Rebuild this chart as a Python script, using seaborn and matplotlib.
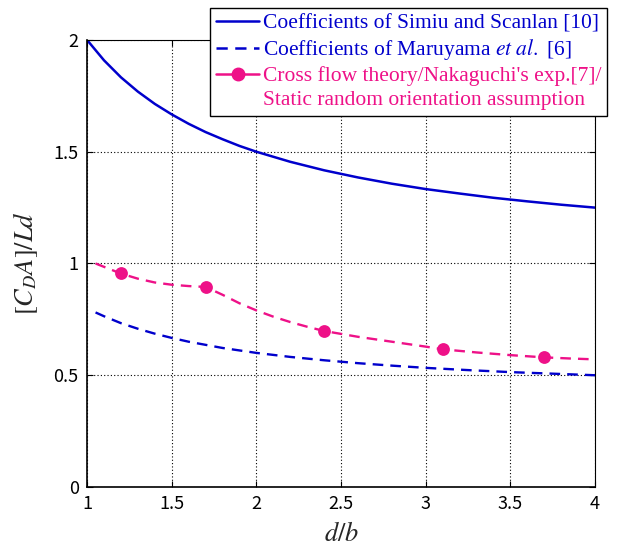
import matplotlib
matplotlib.use("Agg")
import matplotlib.pyplot as plt
import seaborn as sns
import pandas as pd
from matplotlib.lines import Line2D

# Simiu and Scanlan coefficients (solid blue)
simiu_x = [1.0, 1.1, 1.2, 1.3, 1.4, 1.5, 1.6, 1.7, 1.8, 1.9, 2.0, 2.2, 2.4, 2.6,
           2.8, 3.0, 3.2, 3.4, 3.6, 3.8, 4.0]
simiu_y = [2.0, 1.909, 1.833, 1.769, 1.714, 1.667, 1.625, 1.588, 1.556, 1.526, 1.5,
           1.455, 1.417, 1.385, 1.357, 1.333, 1.313, 1.294, 1.278, 1.263, 1.25]

# Maruyama et al. coefficients (dashed blue)
maru_x = [1.05, 1.1, 1.2, 1.3, 1.4, 1.5, 1.6, 1.8, 2.0, 2.2, 2.4, 2.6, 2.8, 3.0,
          3.25, 3.5, 3.75, 4.0]
maru_y = [0.781, 0.764, 0.733, 0.708, 0.686, 0.667, 0.65, 0.622, 0.6, 0.582,
          0.567, 0.554, 0.543, 0.533, 0.523, 0.514, 0.507, 0.5]

# Cross flow theory curve (dashed pink) and Nakaguchi's experiment points
cross_x = [1.05, 1.1, 1.2, 1.3, 1.4, 1.5, 1.6, 1.7, 1.8, 1.9, 2.0, 2.1, 2.2, 2.3,
           2.4, 2.6, 2.8, 3.0, 3.1, 3.3, 3.5, 3.7, 3.85, 4.0]
cross_y = [1.0, 0.985, 0.955, 0.932, 0.915, 0.905, 0.899, 0.895, 0.86, 0.822,
           0.79, 0.762, 0.738, 0.717, 0.698, 0.672, 0.65, 0.628, 0.616, 0.602,
           0.59, 0.58, 0.575, 0.571]
exp_x = [1.2, 1.7, 2.4, 3.1, 3.7]
exp_y = [0.957, 0.896, 0.698, 0.616, 0.58]

BLUE = "#0000cc"
PINK = "#ee1188"
DASH = (0, (4.5, 3))

sns.set_theme(style="white")
plt.rcParams["font.family"] = ["Noto Sans CJK JP", "DejaVu Sans"]
plt.rcParams["mathtext.fontset"] = "stix"

fig = plt.figure(figsize=(6.22, 5.47), dpi=100)
ax = fig.add_axes([0.14, 0.1097, 0.8166, 0.8172])

df_s = pd.DataFrame({"x": simiu_x, "y": simiu_y})
df_m = pd.DataFrame({"x": maru_x, "y": maru_y})
df_c = pd.DataFrame({"x": cross_x, "y": cross_y})
df_e = pd.DataFrame({"x": exp_x, "y": exp_y})

sns.lineplot(data=df_s, x="x", y="y", ax=ax, color=BLUE, linewidth=1.8)
sns.lineplot(data=df_m, x="x", y="y", ax=ax, color=BLUE, linewidth=1.7,
             linestyle=DASH)
sns.lineplot(data=df_c, x="x", y="y", ax=ax, color=PINK, linewidth=1.7,
             linestyle=DASH)
sns.scatterplot(data=df_e, x="x", y="y", ax=ax, color=PINK, s=85,
                edgecolor=PINK, linewidth=0, zorder=5)

ax.set_xlim(1, 4)
ax.set_ylim(0, 2)
ax.set_xticks([1, 1.5, 2, 2.5, 3, 3.5, 4])
ax.set_xticklabels(["1", "1.5", "2", "2.5", "3", "3.5", "4"])
ax.set_yticks([0, 0.5, 1, 1.5, 2])
ax.set_yticklabels(["0", "0.5", "1", "1.5", "2"])
ax.tick_params(labelsize=13, colors="black", direction="in", length=4,
               width=0.8, bottom=True, left=True, top=True, right=True, pad=6)
ax.grid(True, color="black", linestyle=(0, (1, 2)), linewidth=0.8)
for sp in ax.spines.values():
    sp.set_color("black")
    sp.set_linewidth(0.8)
ax.spines["left"].set_linewidth(1.2)
ax.spines["bottom"].set_linewidth(1.2)

ax.set_xlabel(r"$d/b$", fontsize=19, labelpad=5)
ax.set_ylabel(r"$[C_DA]/Ld$", fontsize=19, labelpad=10)

handles = [
    Line2D([], [], color=BLUE, linewidth=1.8),
    Line2D([], [], color=BLUE, linewidth=1.8, linestyle=DASH),
    Line2D([], [], color=PINK, linewidth=1.8, marker="o", markersize=9),
    Line2D([], [], color="none"),
]
labels = [
    "Coefficients of Simiu and Scanlan [10]",
    r"Coefficients of Maruyama $\it{et\ al.}$ [6]",
    "Cross flow theory/Nakaguchi's exp.[7]/",
    "Static random orientation assumption",
]
leg = fig.legend(handles, labels, loc="upper right",
                 bbox_to_anchor=(0.976, 0.986), frameon=True, fancybox=False,
                 edgecolor="black", framealpha=1, handlelength=2.0,
                 handletextpad=0.15, borderpad=0.28, labelspacing=0.17,
                 borderaxespad=0,
                 prop={"family": "Liberation Serif", "size": 15.5})
leg.get_frame().set_linewidth(1.0)
for txt, col in zip(leg.get_texts(), [BLUE, BLUE, PINK, PINK]):
    txt.set_color(col)

fig.savefig("out.png", dpi=100)
